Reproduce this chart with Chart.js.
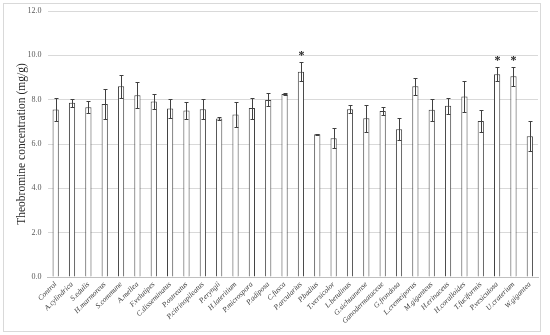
<!DOCTYPE html>
<html lang="en">
<head>
    <meta charset="UTF-8">
    <title>Theobromine</title>
    <style>
        body { margin: 0; background: #fff; }
        .container { width: 550px; height: 335px; }
    </style>
</head>
<body>
    <div class="container">
        <canvas id="myChart" width="550" height="335"></canvas>
    </div>
    <script src="https://cdn.jsdelivr.net/npm/chart.js"></script>
    <script>
        // data
        const species = ['Control', 'A.cylindrica', 'S.edulis', 'H.marmoreus', 'S.commune', 'A.mellea',
            'F.velutipes', 'C.disseminatus', 'P.ostreatus', 'P.citrinopileatus', 'P.eryngii', 'H.lateritium',
            'P.microspora', 'P.adiposa', 'C.fusca', 'P.arcularius', 'P.badius', 'T.versicolor', 'L.betulinus',
            'G.sichuanense', 'Ganodermataceae', 'G.frondosa', 'L.cremeiporus', 'M.giganteus', 'H.erinaceus',
            'H.coralloides', 'T.fuciformis', 'P.vesiculosa', 'U.craterium', 'W.gigantea'];
        const means = [7.56, 7.86, 7.66, 7.81, 8.60, 8.20, 7.92, 7.60, 7.51, 7.57, 7.15, 7.33, 7.62, 7.99, 8.26,
            9.26, 6.44, 6.26, 7.57, 7.16, 7.49, 6.67, 8.60, 7.54, 7.72, 8.14, 7.04, 9.15, 9.06, 6.35];
        const errors = [0.52, 0.18, 0.26, 0.68, 0.53, 0.59, 0.33, 0.41, 0.38, 0.44, 0.05, 0.57, 0.47, 0.29, 0.04,
            0.44, 0.02, 0.45, 0.17, 0.61, 0.18, 0.51, 0.39, 0.51, 0.35, 0.71, 0.51, 0.31, 0.43, 0.68];
        const marked = ['P.arcularius', 'P.vesiculosa', 'U.craterium'];
        const yTicks = [0, 2, 4, 6, 8, 10, 12];

        const serif = "'Liberation Serif', 'Times New Roman', serif";

        const frame = {
            id: 'frame',
            beforeDraw(chart) {
                const c = chart.ctx;
                c.save();
                c.fillStyle = '#fff';
                c.fillRect(0, 0, chart.width, chart.height);
                c.strokeStyle = '#d9d9d9';
                c.lineWidth = 1;
                c.strokeRect(3.5, 3.5, 537, 328);
                c.restore();
            }
        };

        const errorBars = {
            id: 'errorBars',
            afterDatasetsDraw(chart) {
                const c = chart.ctx;
                const meta = chart.getDatasetMeta(0);
                const y = chart.scales.y;
                c.save();
                c.strokeStyle = '#404040';
                c.lineWidth = 1;
                meta.data.forEach((bar, i) => {
                    const x = Math.round(bar.x) + 0.5;
                    const hi = Math.round(y.getPixelForValue(means[i] + errors[i])) + 0.5;
                    const lo = Math.round(y.getPixelForValue(means[i] - errors[i])) + 0.5;
                    c.beginPath();
                    c.moveTo(x, hi); c.lineTo(x, lo);
                    c.moveTo(x - 2, hi); c.lineTo(x + 2, hi);
                    c.moveTo(x - 2, lo); c.lineTo(x + 2, lo);
                    c.stroke();
                    if (marked.includes(species[i])) {
                        c.fillStyle = '#262626';
                        c.font = 'bold 12px ' + serif;
                        c.textAlign = 'center';
                        c.textBaseline = 'middle';
                        c.fillText('*', x, hi - 7);
                    }
                });
                c.restore();
            }
        };

        new Chart(document.querySelector('#myChart').getContext('2d'), {
            type: 'bar',
            data: {
                labels: species,
                datasets: [{
                    data: means,
                    backgroundColor: '#ffffff',
                    borderColor: '#404040',
                    borderWidth: 1,
                    barPercentage: 0.38,
                    categoryPercentage: 1
                }]
            },
            plugins: [frame, errorBars],
            options: {
                responsive: false,
                animation: false,
                layout: { padding: { left: 3, right: 12, top: 11, bottom: 4 } },
                plugins: {
                    legend: { display: false },
                    tooltip: { enabled: false }
                },
                scales: {
                    x: {
                        grid: { display: false, drawTicks: false },
                        border: { color: '#bfbfbf' },
                        ticks: {
                            autoSkip: false,
                            maxRotation: 45,
                            minRotation: 45,
                            padding: 3,
                            color: '#404040',
                            font: { family: serif, size: 7.5, style: 'italic' }
                        },
                        afterFit(s) { s.height = 54; }
                    },
                    y: {
                        min: 0,
                        max: 12,
                        afterBuildTicks(s) { s.ticks = yTicks.map(v => ({ value: v })); },
                        grid: { color: '#d9d9d9', drawTicks: false },
                        border: { display: false },
                        ticks: {
                            padding: 6,
                            color: '#595959',
                            font: { family: serif, size: 8 },
                            callback: v => v.toFixed(1)
                        },
                        title: {
                            display: true,
                            text: 'Theobromine concentration (mg/g)',
                            color: '#262626',
                            font: { family: serif, size: 11.5 },
                            padding: { top: 12, bottom: 0 }
                        },
                        afterFit(s) { s.width = 44.5; }
                    }
                }
            }
        });
    </script>
</body>
</html>
